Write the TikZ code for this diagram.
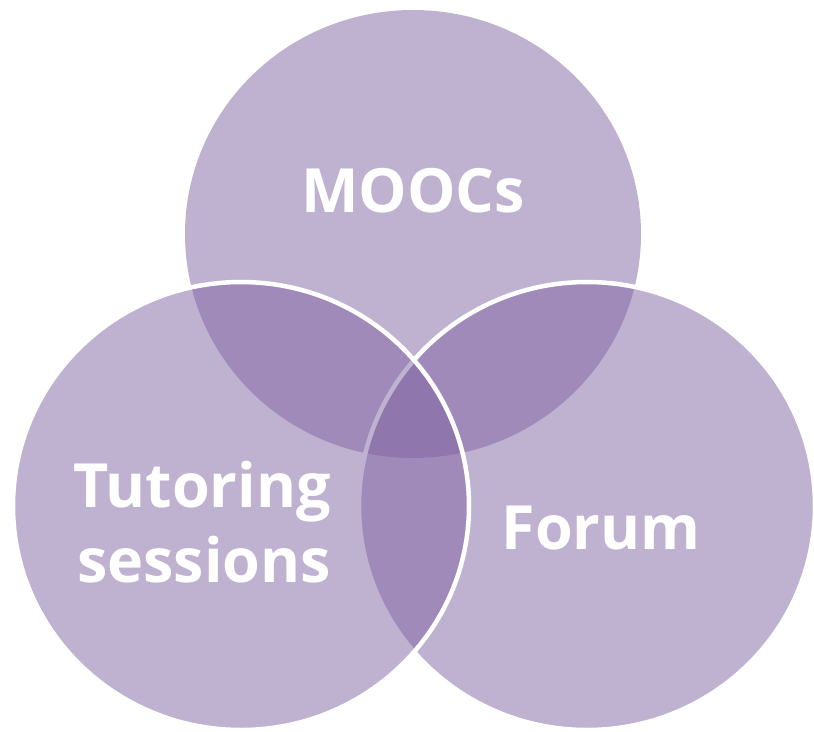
\documentclass[tikz,border=0pt]{standalone}
\usepackage{fontspec}
\setmainfont{Open Sans}
\definecolor{vpurple}{HTML}{8064A2}
\begin{document}
\begin{tikzpicture}[x=1pt,y=-1pt,
  venn/.style={fill=vpurple, fill opacity=0.5},
  rim/.style={draw=white, line width=4.5pt},
  lbl/.style={text=white, font=\fontsize{61}{75}\selectfont\bfseries, inner sep=0pt}]
\useasboundingbox (0,0) rectangle (814,731);
\coordinate (ctop) at (413,234);
\coordinate (cright) at (587,506);
\coordinate (cleft) at (241,506);
\path[venn] (ctop) ellipse [x radius=228, y radius=224];
\path[venn, rim] (cright) ellipse [x radius=228, y radius=224];
\path[venn, rim] (cleft) ellipse [x radius=228, y radius=224];
\node[lbl, anchor=base] (moocs) at (413,212) {MOOCs};
\node[lbl, anchor=base] (forum) at (601,549) {Forum};
\node[lbl, anchor=base east] (tut) at (331,507) {Tutoring};
\node[lbl, anchor=base east] (ses) at (331,582) {sessions};
\end{tikzpicture}
\end{document}
